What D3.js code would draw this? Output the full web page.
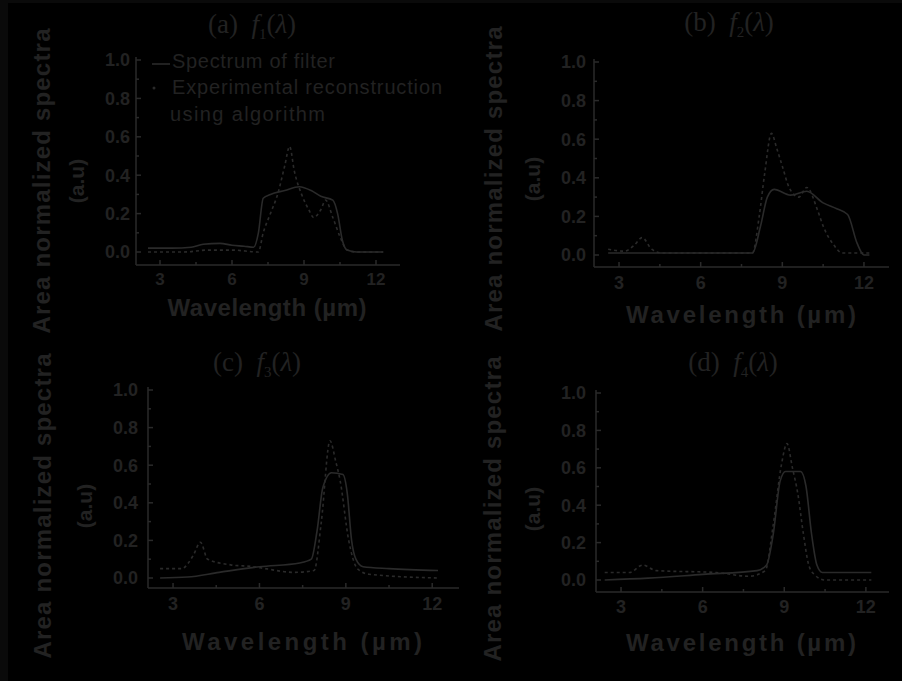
<!doctype html>
<html lang="en">
  <head>
    <meta charset="UTF-8" />
    <title>Area normalized spectra</title>
    <script src="https://d3js.org/d3.v7.min.js"></script>
    <style>
      body {
        margin: 0;
        background-color: #0a0a0a;
      }
      svg {
        display: block;
      }
      .tick-label {
        font-family: 'Liberation Sans', Arial, sans-serif;
        font-weight: bold;
        fill: #222;
      }
      .axis-title {
        font-family: 'Liberation Sans', Arial, sans-serif;
        font-weight: bold;
        font-size: 24px;
        fill: #222;
      }
      .panel-title {
        font-family: 'Liberation Serif', 'Times New Roman', serif;
        font-size: 27px;
        fill: #222;
      }
      .legend {
        font-family: 'Liberation Sans', Arial, sans-serif;
        font-size: 20px;
        fill: #222;
      }
    </style>
  </head>
  <body>
    <svg id="chart" width="902" height="681"></svg>

    <script>
      // Tick values shared by all four panels
      const xTicks = [3, 6, 9, 12]
      const xMinorTicks = [4.5, 7.5, 10.5]
      const yTicks = [0, 0.2, 0.4, 0.6, 0.8, 1.0]
      const yMinorTicks = [0.1, 0.3, 0.5, 0.7, 0.9]

      const panelLabels = ['(a)', '(b)', '(c)', '(d)']
      const panelSubs = ['1', '2', '3', '4']

      const legendLabels = ['Spectrum of filter', 'Experimental reconstruction', 'using algorithm']

      // [wavelength (um), normalized value]
      const filterA = [
        [2.5, 0.02], [3.5, 0.02], [4.3, 0.025], [4.8, 0.04], [5.5, 0.045], [6, 0.035], [6.5, 0.03],
        [6.9, 0.025], [7.1, 0.1], [7.3, 0.28], [7.6, 0.3], [8.2, 0.32], [8.8, 0.34], [9.3, 0.32],
        [9.7, 0.29], [10.2, 0.27], [10.4, 0.2], [10.6, 0.06], [10.8, 0.01], [11.2, 0.0], [12.3, 0.0]
      ]
      const reconA = [
        [2.5, 0.0], [4, 0.0], [5, 0.01], [6, 0.01], [7.1, 0.0], [7.3, 0.1], [7.6, 0.2], [7.9, 0.3],
        [8.2, 0.45], [8.4, 0.55], [8.6, 0.42], [8.9, 0.3], [9.2, 0.22], [9.4, 0.18], [9.7, 0.22],
        [9.9, 0.27], [10.2, 0.18], [10.5, 0.08], [10.8, 0.01], [11.2, 0.0], [12.3, 0.0]
      ]
      const filterB = [
        [2.6, 0.01], [4, 0.01], [6, 0.01], [7.9, 0.01], [8.2, 0.15], [8.45, 0.3], [8.7, 0.34],
        [9.3, 0.31], [9.9, 0.33], [10.5, 0.27], [11.0, 0.24], [11.4, 0.21], [11.75, 0.06],
        [12.0, 0.0], [12.2, 0.0]
      ]
      const reconB = [
        [2.6, 0.03], [3.2, 0.02], [3.55, 0.05], [3.85, 0.09], [4.2, 0.03], [4.6, 0.01], [6, 0.01],
        [7.9, 0.01], [8.15, 0.2], [8.35, 0.42], [8.6, 0.63], [8.8, 0.55], [9.0, 0.46], [9.25, 0.35],
        [9.6, 0.3], [9.9, 0.35], [10.3, 0.23], [10.5, 0.15], [10.9, 0.05], [11.2, 0.01], [12.2, 0.01]
      ]
      const filterC = [
        [2.55, 0.0], [3.5, 0.005], [4.6, 0.03], [6, 0.06], [7.4, 0.08], [7.8, 0.1], [8.0, 0.25],
        [8.2, 0.48], [8.5, 0.56], [8.9, 0.55], [9.05, 0.45], [9.2, 0.2], [9.35, 0.1], [9.6, 0.06],
        [10.5, 0.05], [12.2, 0.04]
      ]
      const reconC = [
        [2.55, 0.05], [3.3, 0.05], [3.7, 0.12], [3.95, 0.19], [4.2, 0.1], [5, 0.07], [5.8, 0.06],
        [6.2, 0.05], [7.2, 0.03], [7.9, 0.04], [8.15, 0.3], [8.45, 0.73], [8.65, 0.62], [8.8, 0.52],
        [9.1, 0.2], [9.4, 0.05], [9.8, 0.02], [12.2, 0.0]
      ]
      const filterD = [
        [2.4, 0.0], [4, 0.01], [6, 0.03], [8.0, 0.05], [8.35, 0.08], [8.6, 0.25], [8.85, 0.53],
        [9.05, 0.58], [9.6, 0.58], [9.8, 0.5], [10.0, 0.25], [10.2, 0.08], [10.4, 0.04], [12.2, 0.04]
      ]
      const reconD = [
        [2.4, 0.04], [3.3, 0.04], [3.8, 0.08], [4.3, 0.05], [6.5, 0.04], [7.7, 0.02], [8.3, 0.05],
        [8.6, 0.3], [8.9, 0.62], [9.1, 0.73], [9.3, 0.6], [9.5, 0.46], [9.7, 0.25], [9.9, 0.08],
        [10.1, 0.03], [10.5, 0.0], [12.2, 0.0]
      ]

      const seriesByPanel = [
        [filterA, reconA],
        [filterB, reconB],
        [filterC, reconC],
        [filterD, reconD],
      ]

      // Layout of each panel in the picture
      const layout = [
        { left: 136, right: 400, xDom: [2.0, 13.0], y0: 252, y1: 60, axisY: 265, yLabelRight: 130,
          yTitleX: 42, auX: 77, yTitleCy: 181, titleX: 252, titleY: 33, xTitleCx: 267, xTitleY: 316,
          xTitleLen: 199, xTickY: 285, tickFont: 17 },
        { left: 594, right: 889, xDom: [2.08, 12.92], y0: 255, y1: 62, axisY: 267, yLabelRight: 586,
          yTitleX: 494, auX: 533, yTitleCy: 179, titleX: 729, titleY: 31, xTitleCx: 741, xTitleY: 323,
          xTitleLen: 230, xTickY: 289, tickFont: 18 },
        { left: 148, right: 459, xDom: [2.13, 12.93], y0: 578, y1: 390, axisY: 588, yLabelRight: 138,
          yTitleX: 43, auX: 85, yTitleCy: 506, titleX: 257, titleY: 371, xTitleCx: 302, xTitleY: 650,
          xTitleLen: 240, xTickY: 610, tickFont: 18 },
        { left: 596, right: 889, xDom: [2.08, 12.85], y0: 580, y1: 393, axisY: 592, yLabelRight: 586,
          yTitleX: 493, auX: 533, yTitleCy: 509, titleX: 733, titleY: 371, xTitleCx: 741, xTitleY: 651,
          xTitleLen: 230, xTickY: 613, tickFont: 18 },
      ]

      const lineColor = '#2a2a2a'
      const fmt = d3.format('.1f')

      const svg = d3.select('#chart')

      // black plate, the outer strip stays a touch lighter
      svg.append('rect').attr('x', 8).attr('y', 3).attr('width', 894).attr('height', 678).attr('fill', '#000')

      function drawPanel(i) {
        const L = layout[i]
        const [filter, recon] = seriesByPanel[i]
        const g = svg.append('g')

        const x = d3.scaleLinear().domain(L.xDom).range([L.left, L.right])
        const y = d3.scaleLinear().domain([0, 1]).range([L.y0, L.y1])

        // axis lines
        g.append('line')
          .attr('x1', L.left).attr('x2', L.right)
          .attr('y1', L.axisY).attr('y2', L.axisY)
          .attr('stroke', lineColor).attr('stroke-width', 1.5)
        g.append('line')
          .attr('x1', L.left).attr('x2', L.left)
          .attr('y1', L.axisY).attr('y2', y(1.0) - 3)
          .attr('stroke', lineColor).attr('stroke-width', 1.5)

        // x ticks (inside)
        g.selectAll('.xt')
          .data(xTicks.concat(xMinorTicks))
          .enter()
          .append('line')
          .attr('x1', (d) => x(d)).attr('x2', (d) => x(d))
          .attr('y1', L.axisY).attr('y2', (d) => L.axisY - (xTicks.includes(d) ? 5 : 3))
          .attr('stroke', lineColor).attr('stroke-width', 1.5)

        g.selectAll('.xl')
          .data(xTicks)
          .enter()
          .append('text')
          .attr('class', 'tick-label')
          .attr('x', (d) => x(d))
          .attr('y', L.xTickY)
          .attr('text-anchor', 'middle')
          .style('font-size', L.tickFont + 'px')
          .text((d) => d)

        // y ticks (inside)
        g.selectAll('.yt')
          .data(yTicks.concat(yMinorTicks))
          .enter()
          .append('line')
          .attr('x1', L.left).attr('x2', (d) => L.left + (yTicks.includes(d) ? 5 : 3))
          .attr('y1', (d) => y(d)).attr('y2', (d) => y(d))
          .attr('stroke', lineColor).attr('stroke-width', 1.5)

        g.selectAll('.yl')
          .data(yTicks)
          .enter()
          .append('text')
          .attr('class', 'tick-label')
          .attr('x', L.yLabelRight)
          .attr('y', (d) => y(d))
          .attr('dy', '0.36em')
          .attr('text-anchor', 'end')
          .style('font-size', '18px')
          .text((d) => fmt(d))

        // curves
        const line = d3
          .line()
          .x((d) => x(d[0]))
          .y((d) => y(d[1]))
          .curve(d3.curveMonotoneX)

        g.append('path')
          .datum(filter)
          .attr('d', line)
          .attr('fill', 'none')
          .attr('stroke', lineColor)
          .attr('stroke-width', 1.6)

        g.append('path')
          .datum(recon)
          .attr('d', line)
          .attr('fill', 'none')
          .attr('stroke', lineColor)
          .attr('stroke-width', 1.6)
          .attr('stroke-dasharray', '3,3')

        // axis titles
        g.append('text')
          .attr('class', 'axis-title')
          .attr('transform', `translate(${L.yTitleX},${L.yTitleCy}) rotate(-90)`)
          .attr('text-anchor', 'middle')
          .attr('dy', '0.35em')
          .attr('textLength', 305)
          .attr('lengthAdjust', 'spacing')
          .text('Area normalized spectra')

        g.append('text')
          .attr('class', 'axis-title')
          .attr('transform', `translate(${L.auX},${L.yTitleCy}) rotate(-90)`)
          .attr('text-anchor', 'middle')
          .attr('dy', '0.35em')
          .style('font-size', '21px')
          .text('(a.u)')

        g.append('text')
          .attr('class', 'axis-title')
          .attr('x', L.xTitleCx)
          .attr('y', L.xTitleY)
          .attr('text-anchor', 'middle')
          .attr('textLength', L.xTitleLen)
          .attr('lengthAdjust', 'spacing')
          .text('Wavelength (\u00b5m)')

        // panel title: (a) f1(λ)
        const t = g.append('text')
          .attr('class', 'panel-title')
          .attr('x', L.titleX)
          .attr('y', L.titleY)
          .attr('text-anchor', 'middle')
        t.append('tspan').text(panelLabels[i] + '\u00a0 ')
        t.append('tspan').style('font-style', 'italic').text('f')
        t.append('tspan').attr('dy', 6).style('font-size', '15px').text(panelSubs[i])
        t.append('tspan').attr('dy', -6).text('(')
        t.append('tspan').style('font-style', 'italic').text('\u03bb')
        t.append('tspan').text(')')
      }

      d3.range(4).forEach(drawPanel)

      // legend, only in panel (a)
      const lg = svg.append('g')
      lg.append('line')
        .attr('x1', 152).attr('x2', 170).attr('y1', 64).attr('y2', 64)
        .attr('stroke', lineColor).attr('stroke-width', 1.6)
      lg.append('circle').attr('cx', 154).attr('cy', 88).attr('r', 1.5).attr('fill', lineColor)
      lg.selectAll('.lt')
        .data(legendLabels)
        .enter()
        .append('text')
        .attr('class', 'legend')
        .attr('x', (d, i) => (i === 2 ? 170 : 172))
        .attr('y', (d, i) => [68, 94, 121][i])
        .attr('textLength', (d, i) => [163, 270, 155][i])
        .attr('lengthAdjust', 'spacing')
        .text((d) => d)
    </script>
  </body>
</html>
